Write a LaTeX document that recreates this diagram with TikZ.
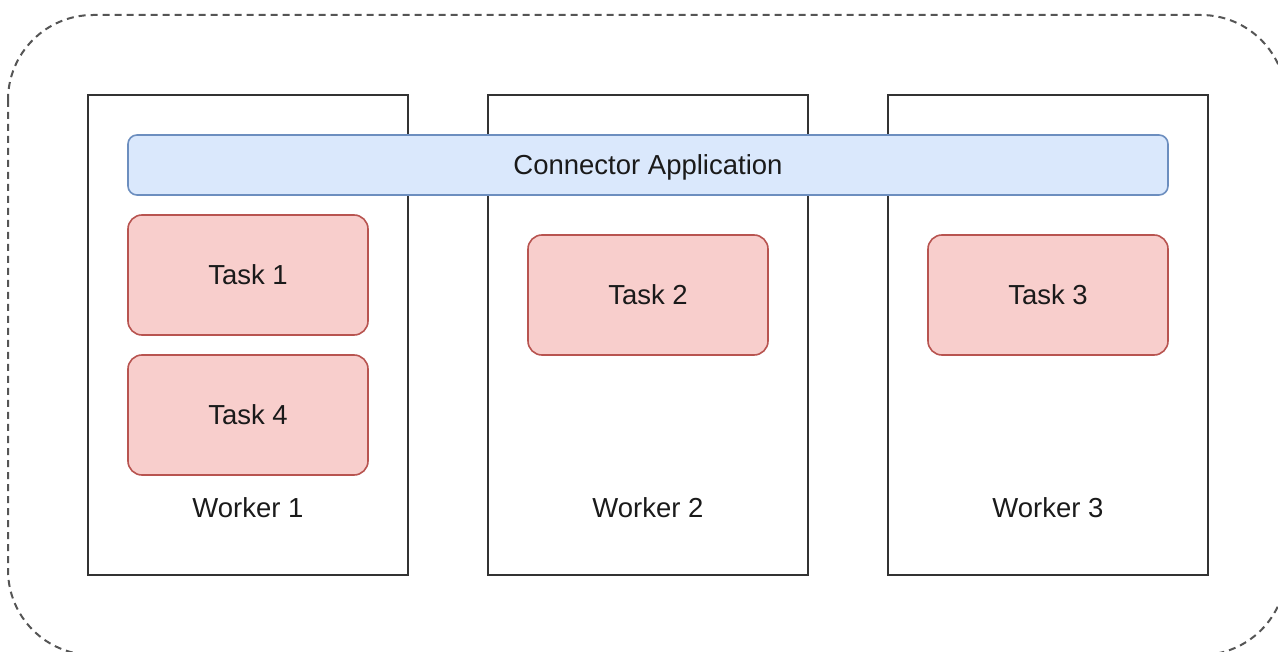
\documentclass[tikz,border=0pt]{standalone}
\usepackage{fontspec}
\setmainfont{Liberation Sans}
\definecolor{appfill}{HTML}{DAE8FC}
\definecolor{appdraw}{HTML}{6C8EBF}
\definecolor{taskfill}{HTML}{F8CECC}
\definecolor{taskdraw}{HTML}{B85450}
\definecolor{txt}{HTML}{1A1A1A}
\definecolor{outer}{HTML}{555555}
\definecolor{wdraw}{HTML}{333333}
\begin{document}
\begin{tikzpicture}[x=1pt,y=-1pt,
  every node/.style={font=\fontsize{27.5}{33}\selectfont, text=txt, inner sep=0pt, outer sep=0pt},
  worker/.style={draw=wdraw, line width=2pt, fill=white, minimum width=320pt, minimum height=480pt},
  app/.style={draw=appdraw, fill=appfill, line width=1.6pt, rounded corners=9pt, minimum width=1040pt, minimum height=60pt, text depth=0pt, yshift=-2pt},
  taskbox/.style={draw=taskdraw, fill=taskfill, line width=1.6pt, rounded corners=14pt, minimum width=240pt, minimum height=120pt},
  wlabel/.style={}
]
\useasboundingbox (0,0) rectangle (1278,652);
\clip (0,0) rectangle (1278,652);
\draw[outer, line width=2pt, dash pattern=on 7pt off 5pt, rounded corners=85pt] (8,15) rectangle (1286,655);
\node[worker] (w1) at (248,335) {};
\node[worker] (w2) at (648,335) {};
\node[worker] (w3) at (1048,335) {};
\node[app] (app) at (648,163) {Connector Application};
\node[taskbox] (t1) at (248,275) {Task 1};
\node[taskbox] (t4) at (248,415) {Task 4};
\node[taskbox] (t2) at (648,295) {Task 2};
\node[taskbox] (t3) at (1048,295) {Task 3};
\node[wlabel] (l1) at (248,508) {Worker 1};
\node[wlabel] (l2) at (648,508) {Worker 2};
\node[wlabel] (l3) at (1048,508) {Worker 3};
\end{tikzpicture}
\end{document}
